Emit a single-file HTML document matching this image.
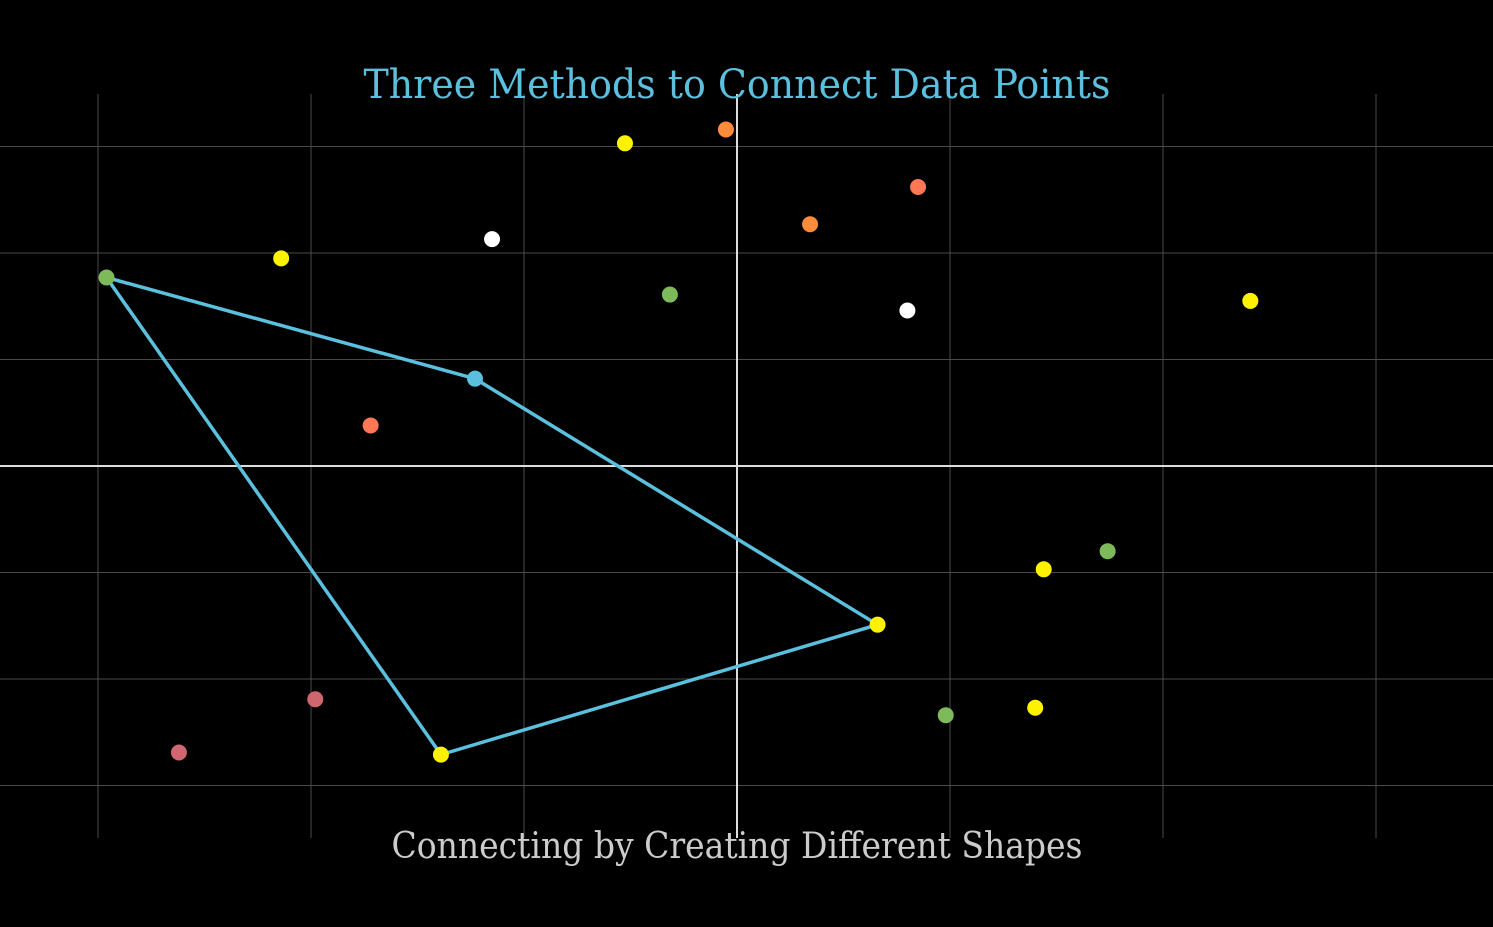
<!DOCTYPE html>
<html><head><meta charset="utf-8"><style>
html,body{margin:0;padding:0;background:#000;}
svg{display:block;}
</style></head><body>
<svg id="chart" width="1493" height="927" xmlns="http://www.w3.org/2000/svg">
<rect width="1493" height="927" fill="#000"/>
<g id="grid"></g>
<g id="axes"></g>
<g id="shape"></g>
<g id="points"></g>
<text x="737" y="98" text-anchor="middle" font-family="'DejaVu Serif','Liberation Serif',serif" font-size="40" fill="#5bc0de" textLength="747" lengthAdjust="spacingAndGlyphs">Three Methods to Connect Data Points</text>
<text x="737" y="858" text-anchor="middle" font-family="'DejaVu Serif','Liberation Serif',serif" font-size="36" fill="#cccccc" textLength="691" lengthAdjust="spacingAndGlyphs">Connecting by Creating Different Shapes</text>
</svg>
<script>
const xTicks = [-3, -2, -1, 0, 1, 2, 3];
const yTicks = [3, 2, 1, 0, -1, -2, -3];
const pointX = [-0.526, -0.052, 0.343, 0.85, -1.15, -2.14, -2.96, -0.315, 0.80, 2.41, -1.23, -1.72, 1.74, 1.44, 0.66, 0.98, 1.40, -1.98, -2.62, -1.39];
const pointY = [3.03, 3.16, 2.27, 2.62, 2.13, 1.95, 1.77, 1.61, 1.46, 1.55, 0.82, 0.38, -0.80, -0.97, -1.49, -2.34, -2.27, -2.19, -2.69, -2.71];
const pointColor = ["#fff200","#ff8c3a","#ff8c3a","#ff7755","#ffffff","#fff200","#7fba5a","#7fba5a","#ffffff","#fff200","#5bc0de","#ff7755","#7fba5a","#fff200","#fff200","#7fba5a","#fff200","#d0666f","#d0666f","#fff200"];
const shapeIdx = [6, 10, 14, 19];

const NS = "http://www.w3.org/2000/svg";
function sx(v){ return 737 + v * 213; }
function sy(v){ return 466 - v * 106.5; }
function mk(tag, attrs, parent){
  const e = document.createElementNS(NS, tag);
  for (const k in attrs) e.setAttribute(k, attrs[k]);
  parent.appendChild(e);
  return e;
}
const grid = document.getElementById('grid');
xTicks.forEach(t => {
  if (t === 0) return;
  const l = mk('line', {x1: sx(t), x2: sx(t), y1: 94, y2: 838, stroke: '#4a4a4a', 'stroke-width': 1}, grid);
  
  
});
yTicks.forEach(t => {
  if (t === 0) return;
  const l = mk('line', {x1: 0, x2: 1493, y1: sy(t), y2: sy(t), stroke: '#4a4a4a', 'stroke-width': 1}, grid);
  
  
});
const axes = document.getElementById('axes');
const xa = mk('line', {x1: 0, x2: 1493, y1: sy(0), y2: sy(0), stroke: '#dddddd', 'stroke-width': 2}, axes);


const ya = mk('line', {x1: sx(0), x2: sx(0), y1: 94, y2: 838, stroke: '#dddddd', 'stroke-width': 2}, axes);



const shape = document.getElementById('shape');
const pts = shapeIdx.map(i => sx(pointX[i]) + ',' + sy(pointY[i])).join(' ');
const poly = mk('polygon', {points: pts, fill: 'none', stroke: '#5bc0de', 'stroke-width': 3.5, 'stroke-linejoin': 'round'}, shape);



const pg = document.getElementById('points');
pointX.forEach((v, i) => {
  const c = mk('circle', {cx: sx(v), cy: sy(pointY[i]), r: 8, fill: pointColor[i]}, pg);
  
  
});
</script>
</body></html>
